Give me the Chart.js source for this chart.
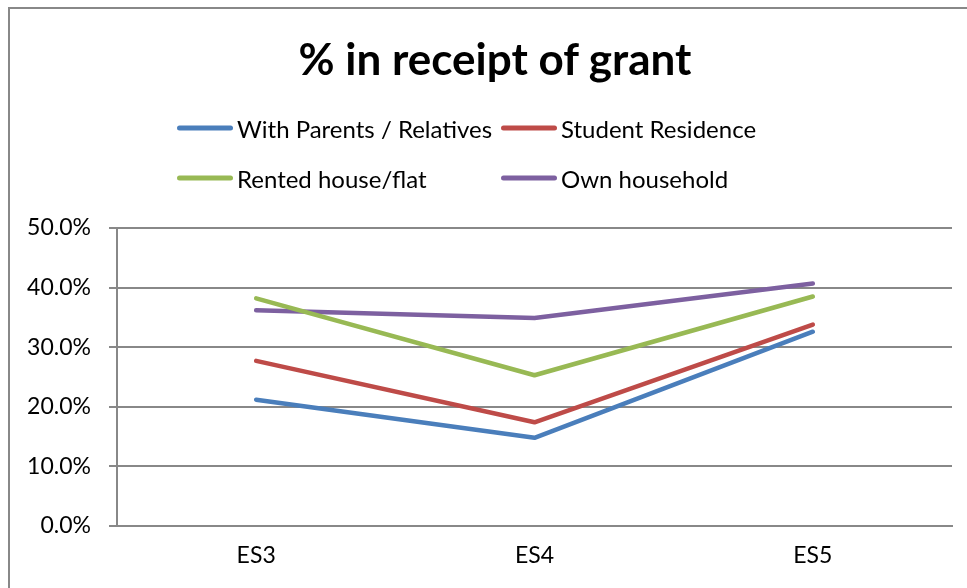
<!DOCTYPE html>
<html>
<head>
<meta charset="utf-8">
<title>% in receipt of grant</title>
<script src="https://cdn.jsdelivr.net/npm/chart.js@4/dist/chart.umd.min.js"></script>
<style>
  html, body { margin: 0; padding: 0; background: #fff; overflow: hidden; }
  #wrap { position: relative; width: 967px; height: 588px; overflow: hidden; }
  #frame { position: absolute; left: 8px; top: 7px; width: 990px; height: 620px;
           border: 2px solid #888; box-sizing: border-box; }
  #chart { position: absolute; left: 0; top: 0; }
  #heading { position: absolute; left: 495px; top: 32px; transform: translateX(-50%);
             margin: 0; white-space: nowrap; font-family: Lato, "Open Sans", sans-serif;
             font-size: 44px; font-weight: bold; line-height: 52.8px; color: #000; }
  #legend { position: absolute; left: 0; top: 0; font-family: Lato, "Open Sans", sans-serif;
            font-size: 24px; color: #000; }
  .item { position: absolute; display: flex; align-items: center; white-space: nowrap;
          transform: translateY(-50%); }
  .swatch { width: 56px; height: 5px; border-radius: 3px; margin-right: 4px; }
</style>
</head>
<body>
<div id="wrap">
  <div id="frame"></div>
  <canvas id="chart" width="967" height="588"></canvas>
  <h1 id="heading">% in receipt of grant</h1>
  <div id="legend"></div>
</div>
<script>
// Survey rounds on the category axis
const categories = ['ES3', 'ES4', 'ES5'];

// Share of students receiving a grant, by housing situation (%)
const withParents      = [21.2, 14.8, 32.6];
const studentResidence = [27.7, 17.4, 33.8];
const rentedHouse      = [38.2, 25.3, 38.5];
const ownHousehold     = [36.2, 34.9, 40.7];

const seriesNames  = ['With Parents / Relatives', 'Student Residence', 'Rented house/flat', 'Own household'];
const seriesColors = ['#4A7EBB', '#BE4B48', '#98B954', '#7D60A0'];

// Value axis
const yMin = 0, yMax = 50, yStep = 10;

const seriesValues = [withParents, studentResidence, rentedHouse, ownHousehold];
const fontFamily = 'Lato, "Open Sans", sans-serif';
const gridColor = '#888888';

const datasets = seriesNames.map((name, i) => ({
  label: name,
  data: seriesValues[i],
  borderColor: seriesColors[i],
  backgroundColor: seriesColors[i],
  borderWidth: 4.5,
  borderCapStyle: 'round',
  borderJoinStyle: 'round',
  pointRadius: 0,
  pointHoverRadius: 0,
  tension: 0,
  fill: false
}));

// Two-column legend laid out in a grid
const legendEl = document.getElementById('legend');
const legendCols = [177, 501];
const legendRows = [128, 178];
seriesNames.forEach((name, i) => {
  const item = document.createElement('div');
  item.className = 'item';
  item.style.left = legendCols[i % 2] + 'px';
  item.style.top = legendRows[Math.floor(i / 2)] + 'px';
  const sw = document.createElement('span');
  sw.className = 'swatch';
  sw.style.background = seriesColors[i];
  const tx = document.createElement('span');
  tx.textContent = name;
  item.appendChild(sw);
  item.appendChild(tx);
  legendEl.appendChild(item);
});

new Chart(document.getElementById('chart'), {
  type: 'line',
  data: { labels: categories, datasets },
  options: {
    responsive: false,
    animation: false,
    events: [],
    layout: { padding: { left: 0, right: 15, top: 228, bottom: 0 } },
    plugins: {
      legend: { display: false },
      tooltip: { enabled: false },
      title: { display: false }
    },
    scales: {
      x: {
        offset: true,
        grid: { display: true, drawOnChartArea: false, drawTicks: false, color: gridColor },
        border: { display: true, color: gridColor, width: 2 },
        ticks: { color: '#000', font: { family: fontFamily, size: 23 }, padding: 16 },
        afterFit: (scale) => { scale.height = 62; }
      },
      y: {
        min: yMin,
        max: yMax,
        grid: { color: gridColor, lineWidth: 2, tickLength: 8 },
        border: { display: true, color: gridColor, width: 2 },
        ticks: {
          stepSize: yStep,
          color: '#000',
          padding: 18,
          font: { family: fontFamily, size: 23 },
          callback: (v) => v.toFixed(1) + '%'
        },
        afterFit: (scale) => { scale.width = 117; }
      }
    }
  }
});
</script>
</body>
</html>
